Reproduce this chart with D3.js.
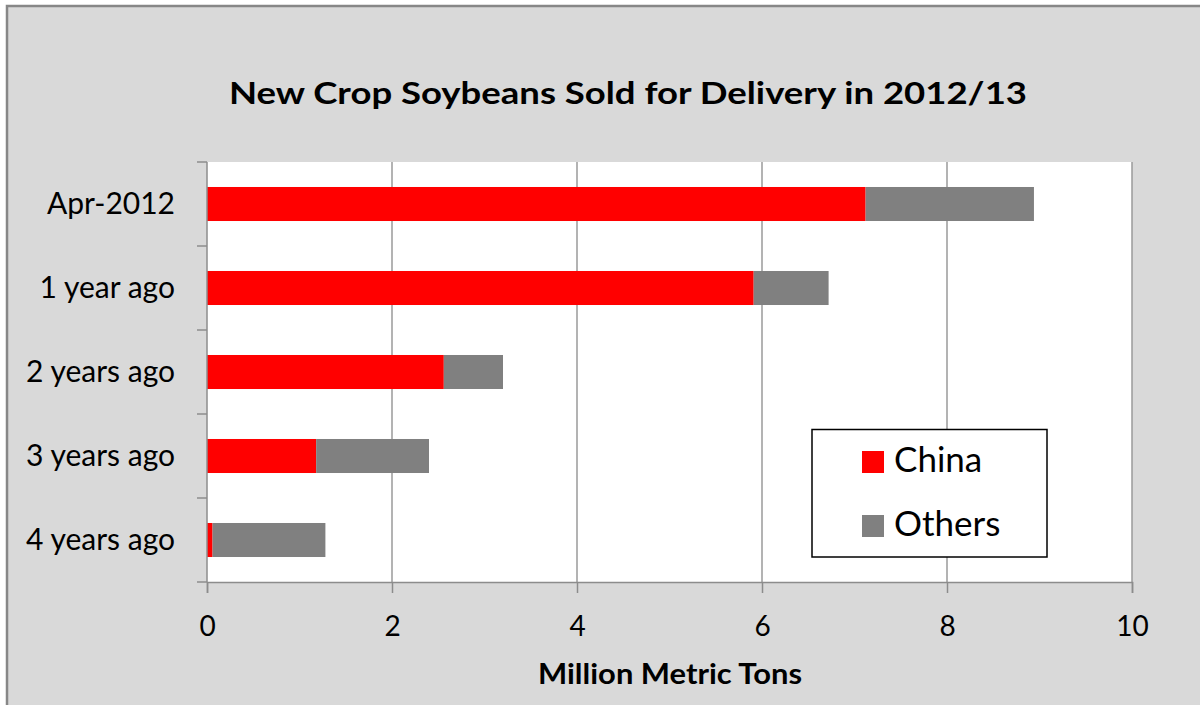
<!DOCTYPE html>
<html>
<head>
<meta charset="utf-8">
<script src="https://cdn.jsdelivr.net/npm/d3@7"></script>
<style>
  body { margin: 0; background: #fff; }
  svg text { font-family: Lato, "Open Sans", sans-serif; fill: #000; }
</style>
</head>
<body>
<svg id="chart" width="1200" height="705"></svg>
<script>
// data
var categories = ["Apr-2012", "1 year ago", "2 years ago", "3 years ago", "4 years ago"];
var china  = [7.12, 5.91, 2.56, 1.18, 0.06];
var others = [1.82, 0.81, 0.64, 1.22, 1.22];
var seriesNames = ["China", "Others"];
var seriesColors = ["#ff0000", "#808080"];
var xTicks = [0, 2, 4, 6, 8, 10];

var svgWidth = 1200, svgHeight = 705;
var plotLeft = 207, plotRight = 1132, plotTop = 162, plotBottom = 582;

var svg = d3.select("#chart");

// outer chart area
svg.append("rect")
  .attr("x", 7).attr("y", 6)
  .attr("width", 1220).attr("height", 720)
  .attr("fill", "#d9d9d9")
  .attr("stroke", "#878787")
  .attr("stroke-width", 2.5);

// plot area
svg.append("rect")
  .attr("x", plotLeft).attr("y", plotTop)
  .attr("width", plotRight - plotLeft).attr("height", plotBottom - plotTop)
  .attr("fill", "#fff");

var xScale = d3.scaleLinear().domain([0, 10]).range([plotLeft, plotRight]);
var yScale = d3.scaleBand().domain(categories).range([plotTop, plotBottom]);
var step = yScale.bandwidth();
var barH = step * 0.405;

// gridlines
svg.append("g").selectAll("line")
  .data(xTicks.slice(1))
  .enter().append("line")
  .attr("x1", function (d) { return xScale(d); })
  .attr("x2", function (d) { return xScale(d); })
  .attr("y1", plotTop).attr("y2", plotBottom)
  .attr("stroke", "#9a9a9a")
  .attr("stroke-width", 1.5);

// stacked bars
var rows = categories.map(function (c, i) {
  return { cat: c, China: china[i], Others: others[i] };
});
var stacked = d3.stack().keys(seriesNames)(rows);

svg.append("g").selectAll("g")
  .data(stacked)
  .enter().append("g")
  .attr("fill", function (d, i) { return seriesColors[i]; })
  .selectAll("rect")
  .data(function (d) { return d; })
  .enter().append("rect")
  .attr("x", function (d) { return xScale(d[0]); })
  .attr("width", function (d) { return xScale(d[1]) - xScale(d[0]); })
  .attr("y", function (d) { return yScale(d.data.cat) + (step - barH) / 2; })
  .attr("height", barH);

// x axis
var xAxis = d3.axisBottom(xScale).tickValues(xTicks).tickSize(11).tickPadding(23);
var gx = svg.append("g")
  .attr("transform", "translate(0," + plotBottom + ")")
  .call(xAxis);
gx.select(".domain").attr("stroke", "#8c8c8c").attr("stroke-width", 1.5);
gx.selectAll(".tick line").attr("stroke", "#8c8c8c").attr("stroke-width", 1.5);
gx.selectAll(".tick text")
  .attr("font-size", 28)
  .style("font-family", "Lato, 'Open Sans', sans-serif")
  .attr("fill", "#000");

// y axis: category ticks between bands, Excel style
var bounds = categories.map(function (c) { return yScale(c); }).concat([plotBottom]);
var gy = svg.append("g");
gy.append("line")
  .attr("x1", plotLeft).attr("x2", plotLeft)
  .attr("y1", plotTop).attr("y2", plotBottom)
  .attr("stroke", "#8c8c8c").attr("stroke-width", 1.5);
gy.selectAll(".yt")
  .data(bounds)
  .enter().append("line")
  .attr("x1", plotLeft - 10).attr("x2", plotLeft)
  .attr("y1", function (d) { return d; })
  .attr("y2", function (d) { return d; })
  .attr("stroke", "#8c8c8c").attr("stroke-width", 1.5);
gy.selectAll("text")
  .data(categories)
  .enter().append("text")
  .attr("x", 175)
  .attr("y", function (d) { return yScale(d) + step / 2 + 10; })
  .attr("text-anchor", "end")
  .attr("font-size", 30)
  .text(function (d) { return d; });

// title
svg.append("text")
  .attr("x", 628).attr("y", 104)
  .attr("text-anchor", "middle")
  .attr("font-size", 31)
  .attr("font-weight", "bold")
  .attr("textLength", 798)
  .attr("lengthAdjust", "spacingAndGlyphs")
  .text("New Crop Soybeans Sold for Delivery in 2012/13");

// axis title
svg.append("text")
  .attr("x", 670).attr("y", 684)
  .attr("text-anchor", "middle")
  .attr("font-size", 28)
  .attr("font-weight", "bold")
  .attr("textLength", 264)
  .attr("lengthAdjust", "spacingAndGlyphs")
  .text("Million Metric Tons");

// legend
var legend = svg.append("g");
legend.append("rect")
  .attr("x", 812).attr("y", 429.5)
  .attr("width", 235).attr("height", 127.5)
  .attr("fill", "#fff")
  .attr("stroke", "#000")
  .attr("stroke-width", 1.5);
var item = legend.selectAll(".item")
  .data(seriesNames)
  .enter().append("g")
  .attr("transform", function (d, i) { return "translate(862," + (451 + i * 64) + ")"; });
item.append("rect")
  .attr("width", 22).attr("height", 22)
  .attr("fill", function (d, i) { return seriesColors[i]; });
item.append("text")
  .attr("x", 32).attr("y", 21)
  .attr("font-size", 35)
  .text(function (d) { return d; });
</script>
</body>
</html>
